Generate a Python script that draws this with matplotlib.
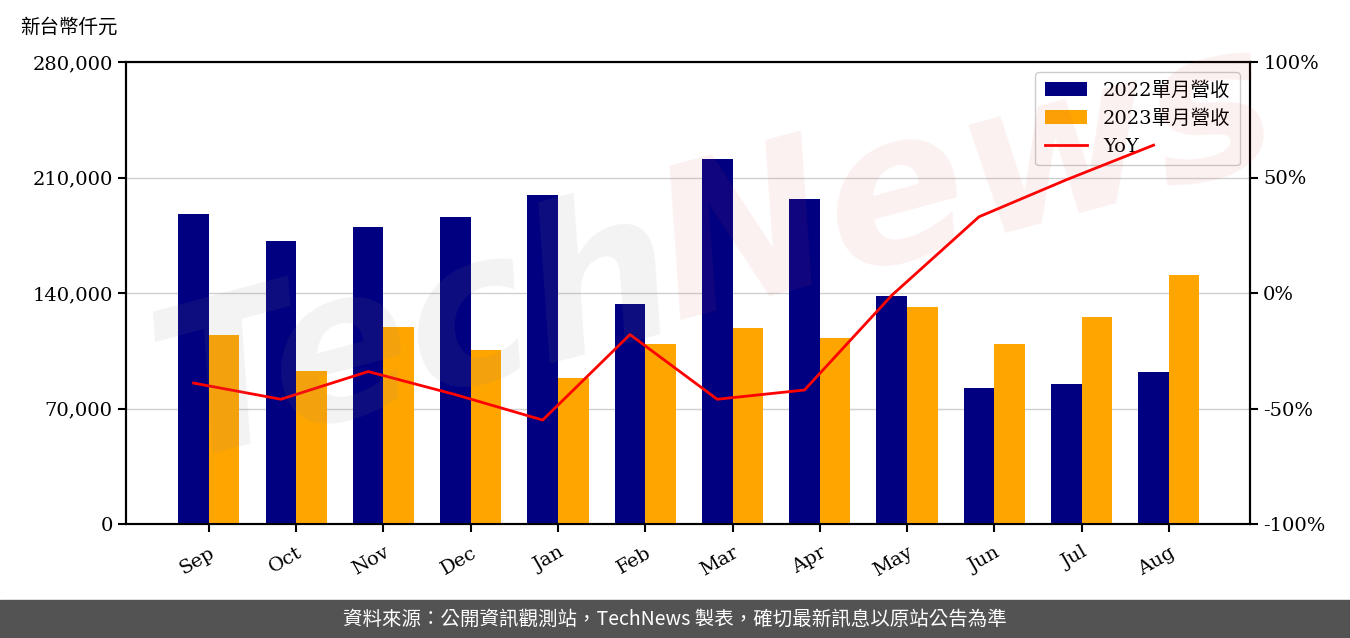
import numpy as np
import matplotlib
matplotlib.use('Agg')
import matplotlib.pyplot as plt
from matplotlib.ticker import FuncFormatter

plt.rcParams['font.family'] = ['DejaVu Serif', 'Noto Sans CJK TC']

months = ['Sep', 'Oct', 'Nov', 'Dec', 'Jan', 'Feb', 'Mar', 'Apr', 'May', 'Jun', 'Jul', 'Aug']
rev_2022 = [187900, 171500, 180000, 186100, 199400, 133300, 221200, 197000, 138200, 82400, 84800, 92100]
rev_2023 = [114500, 92700, 119400, 105500, 88500, 109100, 118800, 112700, 131500, 109100, 125500, 150900]
yoy = [-39, -46, -34, -44, -55, -18, -46, -42, -1, 33, 49, 64]

fig = plt.figure(figsize=(13.5, 6.38), dpi=100)
ax1 = fig.add_axes([126 / 1350, 1 - 524 / 638, (1250 - 126) / 1350, (524 - 62) / 638])
ax2 = ax1.twinx()

x = np.arange(len(months))
w = 0.35
b1 = ax1.bar(x - w / 2, rev_2022, w, color='#000080', label='2022單月營收', zorder=3)
b2 = ax1.bar(x + w / 2, rev_2023, w, color='#FFA500', label='2023單月營收', zorder=3)
# line sits on the 2022 bar positions
l1, = ax2.plot(x - w / 2, yoy, color='red', lw=2, label='YoY', zorder=4)

ax1.set_xlim(-0.95, 11.93)
ax1.set_ylim(0, 280000)
ax1.set_yticks([0, 70000, 140000, 210000, 280000])
ax1.yaxis.set_major_formatter(FuncFormatter(lambda v, p: '{:,.0f}'.format(v)))
ax1.grid(axis='y', color='#d0d0d0', lw=1, zorder=0)
ax1.set_axisbelow(True)
ax1.set_xticks(x)
ax1.set_xticklabels(months, rotation=30, ha='right', rotation_mode='anchor')

ax2.set_ylim(-100, 100)
ax2.set_yticks([-100, -50, 0, 50, 100])
ax2.yaxis.set_major_formatter(FuncFormatter(lambda v, p: '{:.0f}%'.format(v)))

for ax in (ax1, ax2):
    ax.tick_params(labelsize=14, width=1.5, length=6)
    for s in ax.spines.values():
        s.set_linewidth(1.5)
ax1.tick_params(axis='x', pad=8)

# watermark
fig.text(0.10, 0.28, 'Tech', fontsize=150, color='#888888', alpha=0.10,
         rotation=15, style='italic', fontweight='bold', family='DejaVu Sans')
fig.text(0.47, 0.50, 'News', fontsize=150, color='#e05050', alpha=0.08,
         rotation=15, style='italic', fontweight='bold', family='DejaVu Sans')

# legend on the lower axes so the YoY line draws over it
ax1.legend([b1, b2, l1], ['2022單月營收', '2023單月營收', 'YoY'], loc='upper right',
           fontsize=14, framealpha=1, borderpad=0.5, handlelength=2.2)

fig.text(20 / 1350, 1 - 27 / 638, '新台幣仟元', fontsize=14, va='center', ha='left')

fig.patches.append(plt.Rectangle((0, 0), 1, 38 / 638, transform=fig.transFigure,
                                 color='#535353', zorder=0))
fig.text(0.5, 19 / 638, '資料來源：公開資訊觀測站，TechNews 製表，確切最新訊息以原站公告為準',
         color='white', fontsize=14, ha='center', va='center',
         family=['Noto Sans CJK TC', 'DejaVu Sans'])

fig.savefig('out.png', dpi=100)
